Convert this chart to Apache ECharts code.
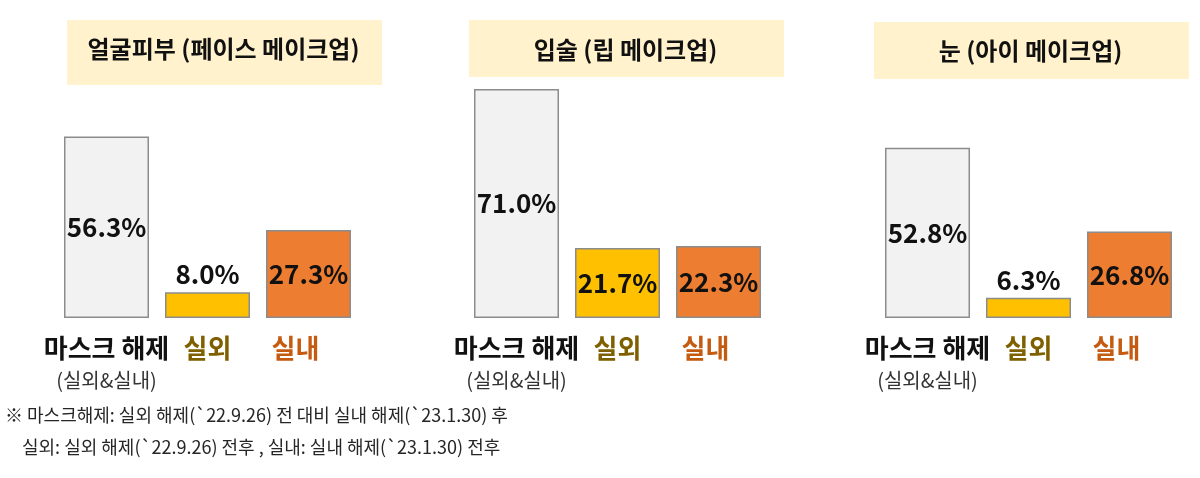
<!DOCTYPE html>
<html>
<head>
<meta charset="utf-8">
<script src="https://cdn.jsdelivr.net/npm/echarts@6/dist/echarts.min.js"></script>
<style>
html,body{margin:0;padding:0;background:#fff;}
#chart{width:1200px;height:478px;}
</style>
</head>
<body>
<div id="chart"></div>
<script>
// ---- data ----
var panelTitles = ['얼굴피부 (페이스 메이크업)', '입술 (립 메이크업)', '눈 (아이 메이크업)'];
var categories = ['마스크 해제', '실외', '실내'];
var subLabel = '(실외&실내)';
var faceValues = [56.3, 8.0, 27.3];
var lipValues = [71.0, 21.7, 22.3];
var eyeValues = [52.8, 6.3, 26.8];
var footnotes = [
  '※ 마스크해제: 실외 해제(`22.9.26) 전 대비 실내 해제(`23.1.30) 후',
  '실외: 실외 해제(`22.9.26) 전후 , 실내: 실내 해제(`23.1.30) 전후'
];

// ---- style ----
var FONT = '"Noto Sans CJK KR", "Noto Sans", sans-serif';
var barColors = ['#f2f2f2', '#ffc000', '#ed7d31'];
var catColors = ['#111111', '#7f6000', '#c55a11'];
var gridLefts = [56, 466, 877];
var gridW = 303;
var titleBoxes = [
  {x: 67, y: 20, w: 315, h: 65},
  {x: 469, y: 20, w: 315, h: 57},
  {x: 874, y: 22, w: 315, h: 57}
];
var allValues = [faceValues, lipValues, eyeValues];

var chart = echarts.init(document.getElementById('chart'), null, {renderer: 'canvas'});

var grids = [], xAxes = [], yAxes = [], series = [], graphics = [];
for (var p = 0; p < 3; p++) {
  grids.push({left: gridLefts[p], width: gridW, top: 60, height: 258, containLabel: false});
  xAxes.push({
    type: 'category', gridIndex: p, data: categories,
    axisLine: {show: false}, axisTick: {show: false},
    axisLabel: {
      interval: 0, margin: 15,
      formatter: function (v, i) {
        if (i === 0) return '{a|' + v + '}\n{s|' + subLabel + '}';
        if (i === 1) return '{b|' + v + '}';
        return '{c|' + v + '}';
      },
      rich: {
        a: {fontFamily: FONT, fontSize: 26, fontWeight: 'bold', color: catColors[0], lineHeight: 30},
        s: {fontFamily: FONT, fontSize: 20, color: '#333', lineHeight: 34},
        b: {fontFamily: FONT, fontSize: 26, fontWeight: 'bold', color: catColors[1], lineHeight: 30},
        c: {fontFamily: FONT, fontSize: 26, fontWeight: 'bold', color: catColors[2], lineHeight: 30, padding: [0, 26, 0, 0]}
      }
    }
  });
  yAxes.push({
    type: 'value', gridIndex: p, min: 0, max: 80,
    axisLine: {show: false}, axisTick: {show: false}, axisLabel: {show: false}, splitLine: {show: false}
  });
  var vals = allValues[p];
  series.push({
    type: 'bar', xAxisIndex: p, yAxisIndex: p, barWidth: 85,
    data: vals.map(function (v, i) {
      return {
        value: v,
        itemStyle: {color: barColors[i], borderColor: '#8c8c8c', borderWidth: 1.5},
        label: {position: v < 12 ? 'top' : 'inside', distance: 5}
      };
    }),
    label: {
      show: true, fontFamily: FONT, fontSize: 26, fontWeight: 'bold', color: '#111',
      formatter: function (d) { return d.value.toFixed(1) + '%'; }
    },
    silent: true
  });
  var b = titleBoxes[p];
  graphics.push({
    type: 'rect', shape: {x: b.x, y: b.y, width: b.w, height: b.h},
    style: {fill: '#fff2cc'}, silent: true
  });
  graphics.push({
    type: 'text', x: b.x + b.w / 2 - 1, y: [49, 50, 51][p],
    style: {text: panelTitles[p], fontFamily: FONT, fontSize: 24, fontWeight: 'bold', fill: '#111',
      textAlign: 'center', textVerticalAlign: 'middle'}, silent: true
  });
}
graphics.push({
  type: 'text', x: 5, y: 415,
  style: {text: footnotes[0], fontFamily: FONT, fontSize: 18, fill: '#262626', textAlign: 'left', textVerticalAlign: 'middle'}
});
graphics.push({
  type: 'text', x: 22, y: 447,
  style: {text: footnotes[1], fontFamily: FONT, fontSize: 18, fill: '#262626', textAlign: 'left', textVerticalAlign: 'middle'}
});

chart.setOption({
  animation: false,
  backgroundColor: '#ffffff',
  grid: grids, xAxis: xAxes, yAxis: yAxes, series: series,
  graphic: graphics
});
</script>
</body>
</html>
